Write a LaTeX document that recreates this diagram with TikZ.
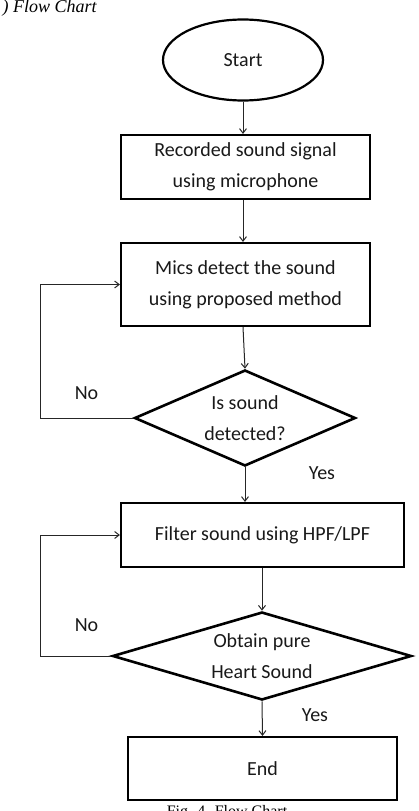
\documentclass[tikz,border=0pt]{standalone}
\usepackage{fontspec}
\setmainfont{Carlito}
\newfontfamily\timesfont{Liberation Serif}
\usetikzlibrary{shapes,arrows,arrows.meta}

\begin{document}
\begin{tikzpicture}[x=1pt,y=-1pt]
		\tikzstyle {box} = [draw, line width=2.2pt, rectangle, align=center, text=black!90, font=\fontsize{20}{31}\selectfont]
		\tikzstyle {decision} = [draw, line width=2.6pt, diamond, inner sep=0pt, align=center, text=black!90, font=\fontsize{20}{31}\selectfont]
		\tikzstyle {flow} = [-{Straight Barb[length=4.5pt,width=7pt]}, gray!30!black, line width=1pt]
		\tikzstyle {answer} = [text=black!90, font=\fontsize{20}{24}\selectfont]

		\useasboundingbox (0,0) rectangle (419,811);

		\node[anchor=base west, font=\timesfont\itshape\fontsize{18}{20}\selectfont] (title) at (-1,12.7) {) Flow Chart};

		\node[box, ellipse, minimum width=160, minimum height=81] (start) at (243,60) {Start};
		\node[box, minimum width=249, minimum height=64] (rec) at (245.5,167) {Recorded sound signal\\using microphone};
		\node[box, minimum width=249, minimum height=83] (mics) at (245.5,284.5) {Mics detect the sound\\using proposed method};
		\node[decision, aspect=2.3, minimum width=221, minimum height=96] (det) at (245,418) {Is sound\\detected?};
		\node[box, minimum width=283, minimum height=64] (filt) at (262.5,535) {Filter sound using HPF/LPF};
		\node[decision, aspect=3, minimum width=299, minimum height=88] (pure) at (262,656) {Obtain pure\\Heart Sound};
		\node[box, minimum width=269, minimum height=63] (end) at (262.5,768.5) {End};

		% main path
		\draw[flow] (start.south) -- (start.south |- rec.north);
		\draw[flow] (rec.south -| start.south) -- (start.south |- mics.north);
		\draw[flow] (mics.south -| start.south) -- (det.north);
		\draw[flow] (det.south) -- (det.south |- filt.north);
		\draw[flow] (filt.south -| pure.north) -- (pure.north);
		\draw[flow] (pure.south) -- (end.north);

		% loops back on a "No"
		\draw[flow] (det.west) -- ++(-92.5,0) |- (mics.west);
		\draw[flow] (pure.west) -- ++(-70.5,0) |- (filt.west);

		\node[answer] (no1) at (86.5,393) {No};
		\node[answer] (yes1) at (322,473) {Yes};
		\node[answer] (no2) at (86.5,625) {No};
		\node[answer] (yes2) at (315,715) {Yes};

		\node[anchor=base, font=\timesfont\fontsize{16}{18}\selectfont] (caption) at (227,816) {Fig. 4. Flow Chart};
\end{tikzpicture}
\end{document}
